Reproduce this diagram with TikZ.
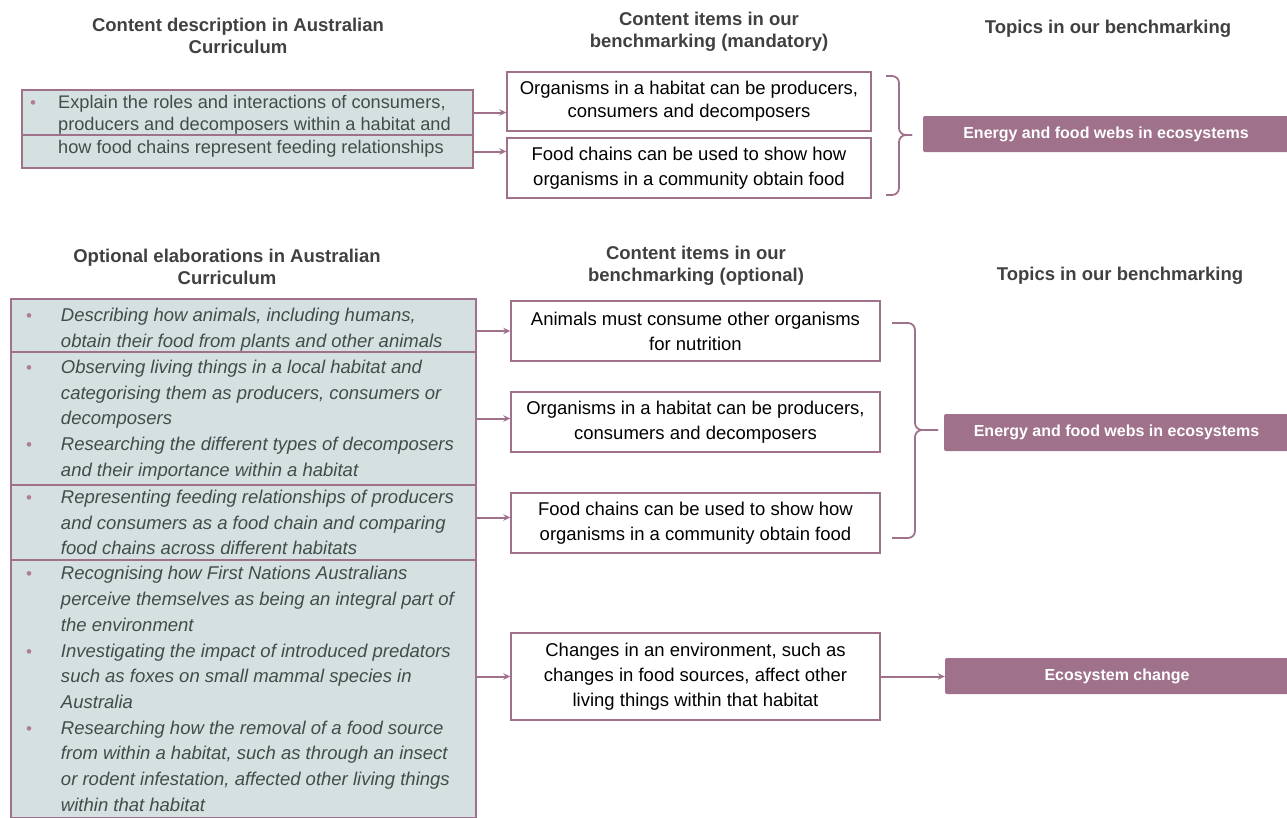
\documentclass[tikz,border=0pt]{standalone}
\usepackage{fontspec}
\setmainfont{Liberation Sans}
\usetikzlibrary{arrows.meta, positioning}

\definecolor{mauve}{HTML}{A0718A}
\definecolor{paleteal}{HTML}{D4E1E0}
\definecolor{slatetext}{HTML}{3F4D4B}
\definecolor{headgray}{HTML}{404040}
\definecolor{bulletpink}{HTML}{B07C97}

% bullet hanging in the left margin of a line
\newcommand{\bul}[1]{\leavevmode\llap{\textcolor{bulletpink}{\fontsize{17}{17}\selectfont\upshape\textbullet}\hspace{#1}}}

\begin{document}
\begin{tikzpicture}[
    x=1pt, y=-1pt,
    >={Stealth[length=7pt, width=6.5pt]},
    heading/.style={font=\fontsize{18.5}{22}\selectfont\bfseries, text=headgray, align=center},
    elabbox/.style={draw=mauve, line width=1.4pt, fill=paleteal, inner sep=0pt},
    itembox/.style={draw=mauve, line width=1.4pt, fill=white, inner sep=0pt, align=center,
        font=\fontsize{18.5}{25}\selectfont},
    topicbox/.style={fill=mauve, text=white, rounded corners=2pt, inner sep=0pt,
        font=\fontsize{16}{18}\selectfont\bfseries},
    link/.style={->, draw=mauve, line width=2pt},
    bracket/.style={draw=mauve, line width=1.8pt, rounded corners=7pt}
]

\useasboundingbox (0,0) rectangle (1287,817);
\clip (0,0) rectangle (1287,817);

% --- Column headings ---
\node[heading] (h1) at (238,36) {Content description in Australian\\Curriculum};
\node[heading] (h2) at (709,32) {Content items in our\\benchmarking (mandatory)};
\node[heading] (h3) at (1108,29) {Topics in our benchmarking};
\node[heading] (h4) at (227,267) {Optional elaborations in Australian\\Curriculum};
\node[heading] (h5) at (696,266) {Content items in our\\benchmarking (optional)};
\node[heading] (h6) at (1120,276) {Topics in our benchmarking};

% --- Upper part: content description ---
\node[elabbox, minimum width=451pt, minimum height=45pt] (lt1) at (247.5,112.5) {};
\node[elabbox, minimum width=451pt, minimum height=33pt] (lt2) at (247.5,151.5) {};
\node[inner sep=0pt, anchor=west, font=\fontsize{18.2}{22.5}\selectfont] (ltxt) at (22,126)
    {\begin{minipage}{451pt}\color{slatetext}\leftskip=36pt
     \bul{22pt}Explain the roles and interactions of consumers,\\
     producers and decomposers within a habitat and\\
     how food chains represent feeding relationships\end{minipage}};

\node[itembox, minimum width=364pt, minimum height=59pt, font=\fontsize{18.5}{23}\selectfont] (rt1) at (689,101.5)
    {Organisms in a habitat can be producers,\\consumers and decomposers};
\node[itembox, minimum width=364pt, minimum height=60pt] (rt2) at (689,168)
    {Food chains can be used to show how\\organisms in a community obtain food};

\node[topicbox, minimum width=366pt, minimum height=36pt] (te1) at (1106,134)
    {Energy and food webs in ecosystems};

\draw[link] (lt1.east) -- (lt1.east -| rt1.west);
\draw[link] (lt2.east) -- (lt2.east -| rt2.west);

% brace to the topic
\draw[bracket] (886,76) -| (899,135) -- (912,135);
\draw[bracket] (886,195) -| (899,135) -- (912,135);

% --- Lower part: optional elaborations ---
\begin{scope}[every node/.append style={font=\fontsize{18.5}{25.7}\selectfont\itshape}]
\node[elabbox, minimum width=465pt, minimum height=53pt] (lb1) at (243.5,325.5)
    {\begin{minipage}{465pt}\color{slatetext}\leftskip=50pt\vspace*{9pt}
     \bul{29pt}Describing how animals, including humans,\\
     obtain their food from plants and other animals\end{minipage}};
\node[elabbox, minimum width=465pt, minimum height=133pt] (lb2) at (243.5,418.5)
    {\begin{minipage}{465pt}\color{slatetext}\leftskip=50pt\vspace*{3pt}
     \bul{29pt}Observing living things in a local habitat and\\
     categorising them as producers, consumers or\\
     decomposers\\
     \bul{29pt}Researching the different types of decomposers\\
     and their importance within a habitat\end{minipage}};
\node[elabbox, minimum width=465pt, minimum height=75pt] (lb3) at (243.5,522.5)
    {\begin{minipage}{465pt}\color{slatetext}\leftskip=50pt
     \bul{29pt}Representing feeding relationships of producers\\
     and consumers as a food chain and comparing\\
     food chains across different habitats\end{minipage}};
\node[elabbox, minimum width=465pt, minimum height=258pt] (lb4) at (243.5,689)
    {\begin{minipage}{465pt}\color{slatetext}\leftskip=50pt
     \bul{29pt}Recognising how First Nations Australians\\
     perceive themselves as being an integral part of\\
     the environment\\
     \bul{29pt}Investigating the impact of introduced predators\\
     such as foxes on small mammal species in\\
     Australia\\
     \bul{29pt}Researching how the removal of a food source\\
     from within a habitat, such as through an insect\\
     or rodent infestation, affected other living things\\
     within that habitat\end{minipage}};
\end{scope}

\node[itembox, minimum width=369pt, minimum height=60pt] (rb1) at (695.5,331)
    {Animals must consume other organisms\\for nutrition};
\node[itembox, minimum width=369pt, minimum height=60pt] (rb2) at (695.5,422)
    {Organisms in a habitat can be producers,\\consumers and decomposers};
\node[itembox, minimum width=369pt, minimum height=60pt] (rb3) at (695.5,523)
    {Food chains can be used to show how\\organisms in a community obtain food};
\node[itembox, minimum width=369pt, minimum height=87pt] (rd) at (695.5,676.5)
    {Changes in an environment, such as\\changes in food sources, affect other\\living things within that habitat};

\node[topicbox, minimum width=345pt, minimum height=37pt] (te2) at (1116.5,432.5)
    {Energy and food webs in ecosystems};
\node[topicbox, minimum width=344pt, minimum height=36pt] (te3) at (1117,676)
    {Ecosystem change};

\draw[link] (lb1.east |- rb1.west) -- (rb1.west);
\draw[link] (lb2.east) -- (lb2.east -| rb2.west);
\draw[link] ([yshift=5pt]lb3.east) -- ([yshift=5pt]lb3.east -| rb3.west);
\draw[link] (lb4.east |- rd.west) -- (rd.west);
\draw[link] (rd.east) -- (rd.east -| te3.west);

% brace to the topic
\draw[bracket] (892,323) -| (915,430) -- (938,430);
\draw[bracket] (892,538) -| (915,430) -- (938,430);

\end{tikzpicture}
\end{document}
